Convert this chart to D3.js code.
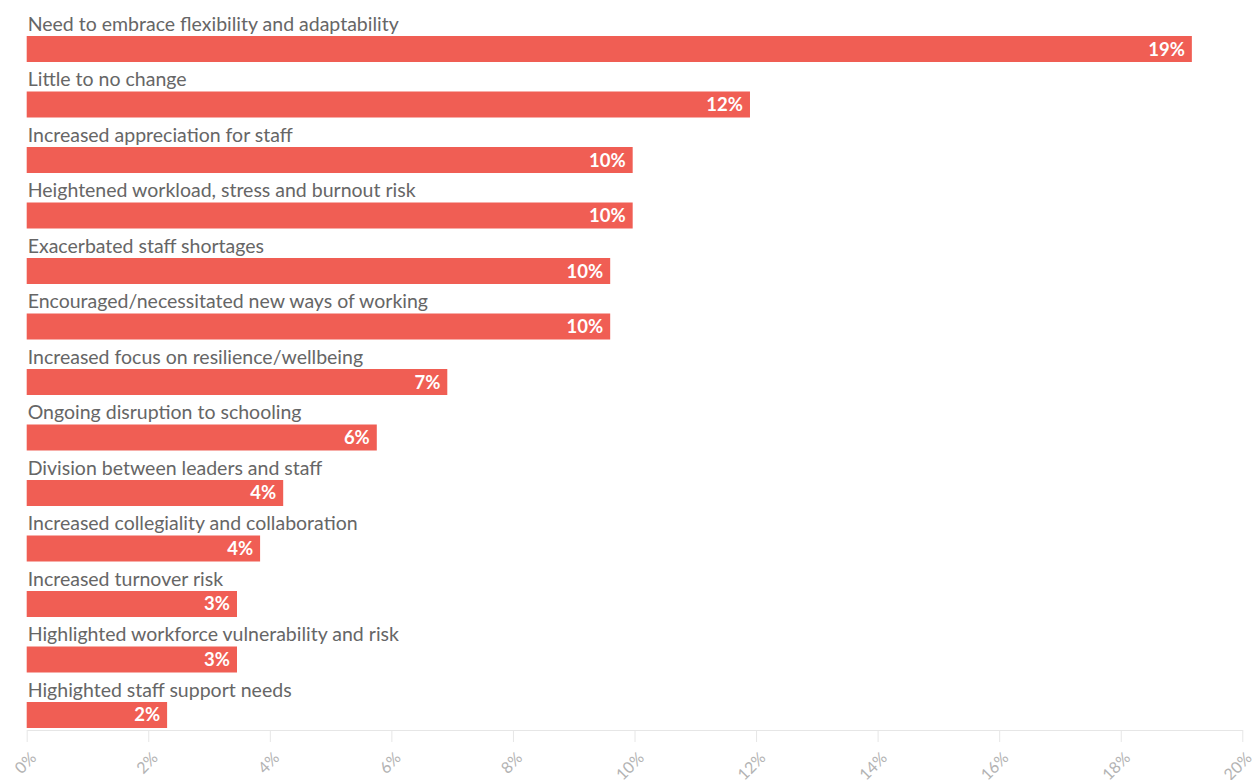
<!DOCTYPE html>
<html><head><meta charset="utf-8">
<script src="https://cdn.jsdelivr.net/npm/d3@7"></script>
<style>
body{margin:0;background:#fff;}
svg{display:block;font-family:"Source Sans Pro",Lato,"Open Sans",sans-serif;}
</style></head>
<body><svg id="chart" width="1252" height="780"></svg>
<script>
const categories = [
  "Need to embrace flexibility and adaptability",
  "Little to no change",
  "Increased appreciation for staff",
  "Heightened workload, stress and burnout risk",
  "Exacerbated staff shortages",
  "Encouraged/necessitated new ways of working",
  "Increased focus on resilience/wellbeing",
  "Ongoing disruption to schooling",
  "Division between leaders and staff",
  "Increased collegiality and collaboration",
  "Increased turnover risk",
  "Highlighted workforce vulnerability and risk",
  "Highighted staff support needs"
];
const values = [19.17, 11.9, 9.97, 9.97, 9.6, 9.6, 6.92, 5.76, 4.22, 3.84, 3.46, 3.46, 2.31];
const valueLabels = ["19%","12%","10%","10%","10%","10%","7%","6%","4%","4%","3%","3%","2%"];
const tickValues = [0,2,4,6,8,10,12,14,16,18,20];

const svg = d3.select("#chart");
const x = d3.scaleLinear().domain([0,20]).range([26.7,1242.3]);
const y = d3.scaleBand().domain(categories).range([36, 728]).paddingInner(0.5315).paddingOuter(0);

const g = svg.append("g");
const rows = g.selectAll("g.row").data(categories).join("g").attr("class","row");

rows.append("rect")
  .attr("x", x(0))
  .attr("y", d=> y(d))
  .attr("width", (d,i)=> x(values[i]) - x(0))
  .attr("height", y.bandwidth())
  .attr("fill", "#f05e54");

rows.append("text")
  .attr("x", x(0) + 1)
  .attr("y", d=> y(d) - 5)
  .attr("fill", "#666")
  .attr("font-size", 19.5)
  .text(d=>d);

rows.append("text")
  .attr("x", (d,i)=> x(values[i]) - 7)
  .attr("y", d=> y(d) + y.bandwidth()/2 + 6.5)
  .attr("text-anchor","end")
  .attr("fill","#fff")
  .attr("font-weight","bold")
  .attr("font-size", 18.5)
  .text((d,i)=>valueLabels[i]);

const axis = d3.axisBottom(x).tickValues(tickValues).tickFormat(d=>d+"%").tickSize(12).tickSizeOuter(0);
const ax = svg.append("g").attr("transform","translate(0,730)").call(axis);
ax.select(".domain").attr("stroke","#e6e6e6");
ax.selectAll(".tick line").attr("stroke","#e6e6e6");
ax.selectAll(".tick text")
  .attr("fill","#b3b3b3")
  .attr("font-size",16)
  .attr("font-family",'"Source Sans Pro",Lato,"Open Sans",sans-serif')
  .attr("text-anchor","end")
  .attr("dy",null)
  .attr("y",null)
  .attr("transform","translate(10,29) rotate(-45)");
</script></body></html>
